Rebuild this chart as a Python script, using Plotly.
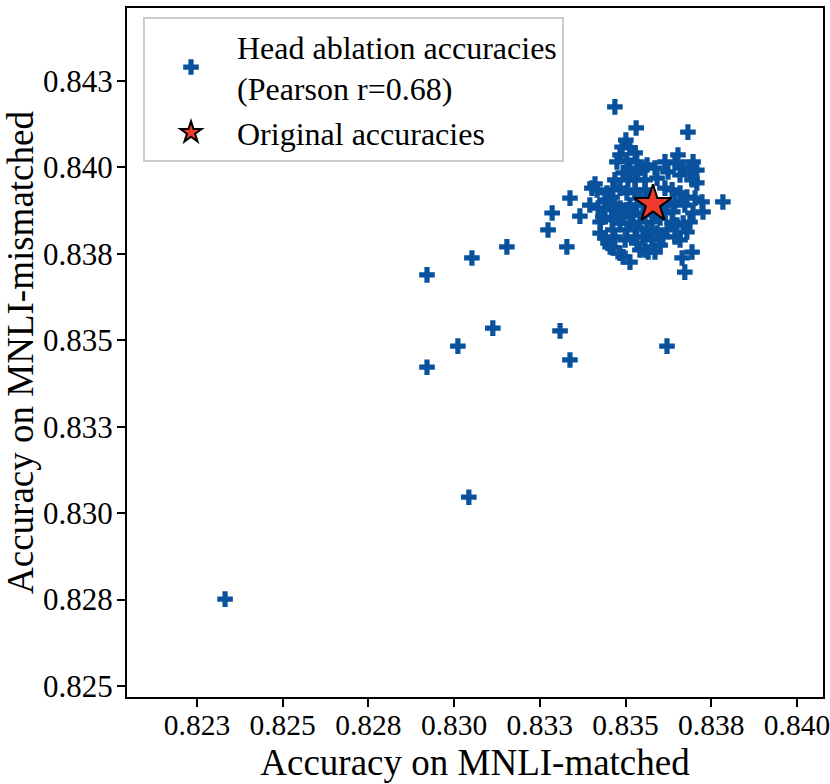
import plotly.graph_objects as go

# Head ablation accuracies (matched, mismatched)
ablation_matched = [
    0.82332, 0.82921, 0.82921, 0.83052, 0.83011, 0.83043, 0.83113, 0.83154, 0.83309, 0.83338, 0.83621,
    0.83469, 0.83531, 0.83682, 0.83501, 0.83490, 0.83513, 0.83528, 0.83484, 0.83475, 0.83504,
    0.83533, 0.83563, 0.83586, 0.83615, 0.83653, 0.83697, 0.83644, 0.83668, 0.83688, 0.83659,
    0.83694, 0.83592, 0.83513, 0.83536, 0.83493, 0.83507, 0.83528, 0.83411, 0.83402, 0.83463,
    0.83484, 0.83446, 0.83504, 0.83528, 0.83557, 0.83338, 0.83396, 0.83420, 0.83367, 0.83286,
    0.83274, 0.83329, 0.83449, 0.83469, 0.83484, 0.83513, 0.83542, 0.83434, 0.83461, 0.83493,
    0.83522, 0.83551, 0.83615, 0.83636, 0.83659, 0.83679, 0.83703, 0.83723, 0.83726, 0.83697,
    0.83673, 0.83644, 0.83621, 0.83638, 0.83609, 0.83784, 0.83484, 0.83513, 0.83542, 0.83577,
    0.83601, 0.83463, 0.83504, 0.83533, 0.83426, 0.83440, 0.83449, 0.83463, 0.83484, 0.83513,
    0.83528, 0.83551, 0.83563, 0.83592, 0.83621, 0.83644, 0.83650, 0.83668, 0.83533, 0.83542,
    0.83566, 0.83586, 0.83694, 0.83665, 0.83673, 0.83417, 0.83455, 0.83493, 0.83557, 0.83609,
    0.83659, 0.83708, 0.83571, 0.83557, 0.83592, 0.83440, 0.83475, 0.83504, 0.83533, 0.83563,
    0.83461, 0.83426, 0.83469, 0.83499, 0.83577, 0.83601, 0.83636, 0.83688, 0.83679, 0.83469,
    0.83557, 0.83624, 0.83708, 0.83542, 0.83440,
]
ablation_mismatched = [
    0.82751, 0.83689, 0.83422, 0.83738, 0.83483, 0.83046, 0.83535, 0.83770, 0.83527, 0.83443, 0.83483,
    0.84175, 0.84114, 0.84102, 0.84079, 0.84059, 0.84056, 0.84042, 0.84036, 0.84016, 0.84021,
    0.84016, 0.84007, 0.83998, 0.84016, 0.84036, 0.84016, 0.84013, 0.84001, 0.83992, 0.83978,
    0.83964, 0.83969, 0.83992, 0.83984, 0.83984, 0.83964, 0.83964, 0.83952, 0.83940, 0.83935,
    0.83940, 0.83926, 0.83926, 0.83935, 0.83935, 0.83911, 0.83891, 0.83882, 0.83859, 0.83868,
    0.83819, 0.83770, 0.83900, 0.83891, 0.83882, 0.83891, 0.83911, 0.83856, 0.83848, 0.83856,
    0.83862, 0.83868, 0.83940, 0.83935, 0.83926, 0.83914, 0.83911, 0.83900, 0.83871, 0.83868,
    0.83891, 0.83900, 0.83891, 0.83871, 0.83868, 0.83900, 0.83839, 0.83839, 0.83842, 0.83842,
    0.83854, 0.83819, 0.83819, 0.83825, 0.83810, 0.83796, 0.83781, 0.83767, 0.83752, 0.83726,
    0.83799, 0.83799, 0.83819, 0.83810, 0.83819, 0.83799, 0.83833, 0.83839, 0.83781, 0.83761,
    0.83755, 0.83755, 0.83755, 0.83738, 0.83697, 0.83935, 0.83770, 0.83741, 0.83761, 0.83799,
    0.83790, 0.83955, 0.83891, 0.83862, 0.83868, 0.83877, 0.83868, 0.83877, 0.83891, 0.83911,
    0.83914, 0.83842, 0.83799, 0.83790, 0.83790, 0.83775, 0.83842, 0.83842, 0.83813, 0.83964,
    0.83964, 0.83987, 0.83992, 0.83998, 0.83906,
]

original_matched = [0.83580]
original_mismatched = [0.83894]

x_tickvals = [0.8225, 0.825, 0.8275, 0.83, 0.8325, 0.835, 0.8375, 0.84]
x_ticktext = ["0.823", "0.825", "0.828", "0.830", "0.833", "0.835", "0.838", "0.840"]
y_tickvals = [0.825, 0.8275, 0.83, 0.8325, 0.835, 0.8375, 0.84, 0.8425]
y_ticktext = ["0.825", "0.828", "0.830", "0.833", "0.835", "0.838", "0.840", "0.843"]

x_range = [0.82046, 0.84076]
y_range = [0.82468, 0.84461]

FONT = "Liberation Serif"
BLUE = "#08519c"
RED = "#ef3b2c"

fig = go.Figure()
fig.add_trace(go.Scatter(
    x=ablation_matched, y=ablation_mismatched, mode="markers",
    name="Head ablation accuracies<br>(Pearson r=0.68)",
    marker=dict(symbol="cross", size=13, color=BLUE, line=dict(width=0)),
))
fig.add_trace(go.Scatter(
    x=original_matched, y=original_mismatched, mode="markers",
    name="Original accuracies",
    marker=dict(symbol="star", size=28, color=RED, line=dict(width=2, color="black")),
))

axis_common = dict(
    showline=True, linecolor="black", linewidth=2, mirror=True,
    ticks="outside", ticklen=8, tickwidth=2, tickcolor="black",
    showgrid=False, zeroline=False, automargin=False,
    ticklabeloverflow="allow",
)

fig.update_layout(
    width=830, height=784,
    margin=dict(l=127, r=7, t=8, b=87),
    plot_bgcolor="white", paper_bgcolor="white",
    font=dict(family=FONT, color="black"),
    showlegend=True,
    legend=dict(
        x=0.023, y=0.987, xanchor="left", yanchor="top",
        bgcolor="rgba(255,255,255,0.8)", bordercolor="#cccccc", borderwidth=2,
        font=dict(family=FONT, size=32, color="black"),
        itemwidth=82, tracegroupgap=0,
    ),
    xaxis=dict(
        range=x_range, tickvals=x_tickvals, ticktext=x_ticktext,
        ticklabelstandoff=-7,
        tickfont=dict(family=FONT, size=29.5, color="black"),
        title=dict(text="Accuracy on MNLI-matched", font=dict(family=FONT, size=37, color="black"), standoff=9),
        **axis_common,
    ),
    yaxis=dict(
        range=y_range, tickvals=y_tickvals, ticktext=y_ticktext,
        ticklabelstandoff=-2,
        tickfont=dict(family=FONT, size=31, color="black"),
        title=dict(text="Accuracy on MNLI-mismatched", font=dict(family=FONT, size=37, color="black"), standoff=1),
        **axis_common,
    ),
)

fig.write_html("out.html", config={"displayModeBar": False},
               post_script="document.body.style.margin='0';")
